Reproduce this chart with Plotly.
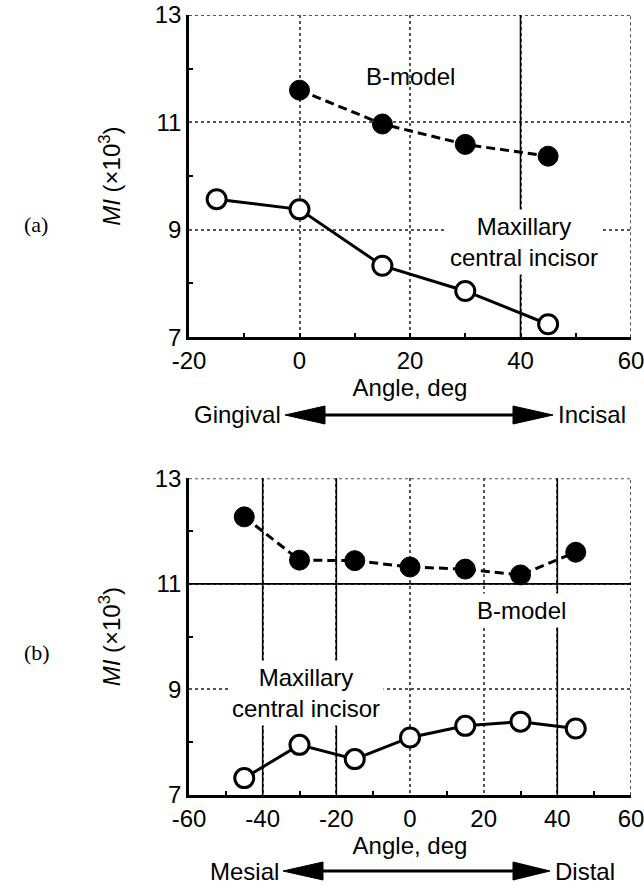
import plotly.graph_objects as go
from plotly.subplots import make_subplots

# ---- data ----
angle_a = [-15, 0, 15, 30, 45]
tooth_a = [9.57, 9.38, 8.33, 7.86, 7.24]
bmodel_a_angle = [0, 15, 30, 45]
bmodel_a = [11.60, 10.97, 10.59, 10.37]

angle_b = [-45, -30, -15, 0, 15, 30, 45]
tooth_b = [7.32, 7.95, 7.68, 8.09, 8.31, 8.39, 8.26]
bmodel_b = [12.27, 11.45, 11.44, 11.32, 11.28, 11.17, 11.60]

yticks = [7, 9, 11, 13]
ytick_text = ["7", "9", "11", "13"]
xticks_a = [-20, 0, 20, 40, 60]
xtick_text_a = ["-20", "0", "20", "40", "60"]
xticks_b = [-60, -40, -20, 0, 20, 40, 60]
xtick_text_b = ["-60", "-40", "-20", "0", "20", "40", "60"]
xrange_a = [-20, 60]
xrange_b = [-60, 60]
yrange = [7, 13]

FONT = "Liberation Sans, Arial, sans-serif"
FS = 24

W, H = 644, 886
ML, MR, MT, MB = 189, 13, 15, 91
PW, PH = W - ML - MR, H - MT - MB


def px(x):
    return (x - ML) / PW


def py(y):
    return (H - MB - y) / PH


fig = make_subplots(rows=2, cols=1)

solid = dict(color="black", width=3)
dashed = dict(color="black", width=3, dash="9px,5px")
open_m = dict(symbol="circle", size=19, color="white", line=dict(color="black", width=3))
fill_m = dict(symbol="circle", size=20, color="black", line=dict(color="black", width=1))

fig.add_trace(go.Scatter(x=bmodel_a_angle, y=bmodel_a, mode="lines+markers",
                         line=dashed, marker=fill_m, showlegend=False), row=1, col=1)
fig.add_trace(go.Scatter(x=angle_a, y=tooth_a, mode="lines+markers",
                         line=solid, marker=open_m, showlegend=False), row=1, col=1)
fig.add_trace(go.Scatter(x=angle_b, y=bmodel_b, mode="lines+markers",
                         line=dashed, marker=fill_m, showlegend=False), row=2, col=1)
fig.add_trace(go.Scatter(x=angle_b, y=tooth_b, mode="lines+markers",
                         line=solid, marker=open_m, showlegend=False), row=2, col=1)

GRID = "#555555"
axis_common = dict(
    showline=True, linecolor="black", linewidth=2.5, mirror=False,
    showgrid=True, gridcolor=GRID, gridwidth=2, griddash="dot",
    zeroline=False, ticks="inside", ticklen=0, tickcolor="black",
    tickfont=dict(family=FONT, size=FS, color="black"), automargin=False,
    ticklabeloverflow="allow",
)

ytitle = dict(text="<i>MI</i> (\u00d710<sup>3</sup>)",
              font=dict(family=FONT, size=FS, color="black"), standoff=28)
xtitle = dict(text="Angle, deg", font=dict(family=FONT, size=FS, color="black"), standoff=6)

fig.update_xaxes(**axis_common, range=xrange_a, tickvals=xticks_a, ticktext=xtick_text_a,
                 minor=dict(ticks="inside", ticklen=4, tickwidth=2, tickcolor="black",
                            dtick=10, tick0=-10, showgrid=False),
                 title=xtitle, row=1, col=1)
fig.update_xaxes(**axis_common, range=xrange_b, tickvals=xticks_b, ticktext=xtick_text_b,
                 minor=dict(ticks="inside", ticklen=4, tickwidth=2, tickcolor="black",
                            dtick=20, tick0=-50, showgrid=False),
                 title=xtitle, row=2, col=1)
for r in (1, 2):
    fig.update_yaxes(**axis_common, range=yrange, tickvals=yticks, ticktext=ytick_text,
                     minor=dict(ticks="inside", ticklen=4, tickwidth=2, tickcolor="black",
                                dtick=2, tick0=8, showgrid=False),
                     title=ytitle, row=r, col=1)

fig.update_layout(
    width=W, height=H,
    margin=dict(l=ML, r=MR, t=MT, b=MB, autoexpand=False),
    plot_bgcolor="white", paper_bgcolor="white",
    xaxis=dict(domain=[0, 1]), xaxis2=dict(domain=[0, 1]),
    yaxis=dict(domain=[0.587, 1.0]), yaxis2=dict(domain=[0.0, 0.406]),
    font=dict(family=FONT, size=FS, color="black"),
)

# dotted top / right frame
frame = dict(color=GRID, width=2, dash="dot")
for xr, yr, xrg in (("x", "y", xrange_a), ("x2", "y2", xrange_b)):
    fig.add_shape(type="line", xref=xr, yref=yr,
                  x0=xrg[0], x1=xrg[1], y0=yrange[1], y1=yrange[1], line=frame,
                  layer="between")
    fig.add_shape(type="line", xref=xr, yref=yr,
                  x0=xrg[1], x1=xrg[1], y0=yrange[0], y1=yrange[1], line=frame,
                  layer="between")

# solid black reference lines
line_k = dict(color="black", width=1.6)
fig.add_shape(type="line", xref="x", yref="y", x0=40, x1=40, y0=7, y1=13,
              line=line_k, layer="between")
for xv in (-40, -20, 40):
    fig.add_shape(type="line", xref="x2", yref="y2", x0=xv, x1=xv, y0=7, y1=13,
                  line=line_k, layer="between")
fig.add_shape(type="line", xref="x2", yref="y2", x0=-60, x1=60, y0=11, y1=11,
              line=line_k, layer="between")

# in-plot labels
lab = dict(family=FONT, size=FS, color="black")
fig.add_annotation(x=20, y=11.85, xref="x", yref="y", text="B-model", showarrow=False,
                   font=lab)
fig.add_annotation(x=40.6, y=8.77, xref="x", yref="y", text="Maxillary<br>central incisor",
                   showarrow=False, font=lab, bgcolor="white", borderpad=3)
fig.add_annotation(x=30.4, y=10.5, xref="x2", yref="y2", text="B-model", showarrow=False,
                   font=lab, bgcolor="white", borderpad=3)
fig.add_annotation(x=-28.2, y=8.93, xref="x2", yref="y2", text="Maxillary<br>central incisor",
                   showarrow=False, font=lab, bgcolor="white", borderpad=3)

# panel labels
serif = dict(family="Liberation Serif, Times New Roman, serif", size=22, color="black")
fig.add_annotation(x=px(22), y=py(210), xref="paper", yref="paper", text="(a)",
                   showarrow=False, font=serif)
fig.add_annotation(x=px(22), y=py(667), xref="paper", yref="paper", text="(b)",
                   showarrow=False, font=serif)


# direction arrows
def direction(yrow, left_txt, right_txt, ltip, lbase, rbase, rtip):
    fig.add_shape(type="line", xref="paper", yref="paper",
                  x0=px(lbase - 2), x1=px(rbase + 2), y0=py(yrow), y1=py(yrow),
                  line=dict(color="black", width=3))
    for tip, base in ((ltip, lbase), (rtip, rbase)):
        path = (f"M {px(tip)} {py(yrow)} L {px(base)} {py(yrow - 9)} "
                f"L {px(base)} {py(yrow + 9)} Z")
        fig.add_shape(type="path", xref="paper", yref="paper", path=path,
                      fillcolor="black", line=dict(color="black", width=1))
    fig.add_annotation(x=px(ltip - 2), y=py(yrow), xref="paper", yref="paper",
                       text=left_txt, showarrow=False, xanchor="right", yanchor="middle",
                       font=lab)
    fig.add_annotation(x=px(rtip + 3), y=py(yrow), xref="paper", yref="paper",
                       text=right_txt, showarrow=False, xanchor="left", yanchor="middle",
                       font=lab)


direction(415, "Gingival", "Incisal", 285, 325, 513, 553)
direction(871, "Mesial", "Distal", 283, 323, 513, 550)

fig.write_html("out.html", config={"displayModeBar": False},
               post_script="document.body.style.margin='0';"
                           "document.body.style.overflow='hidden';")
